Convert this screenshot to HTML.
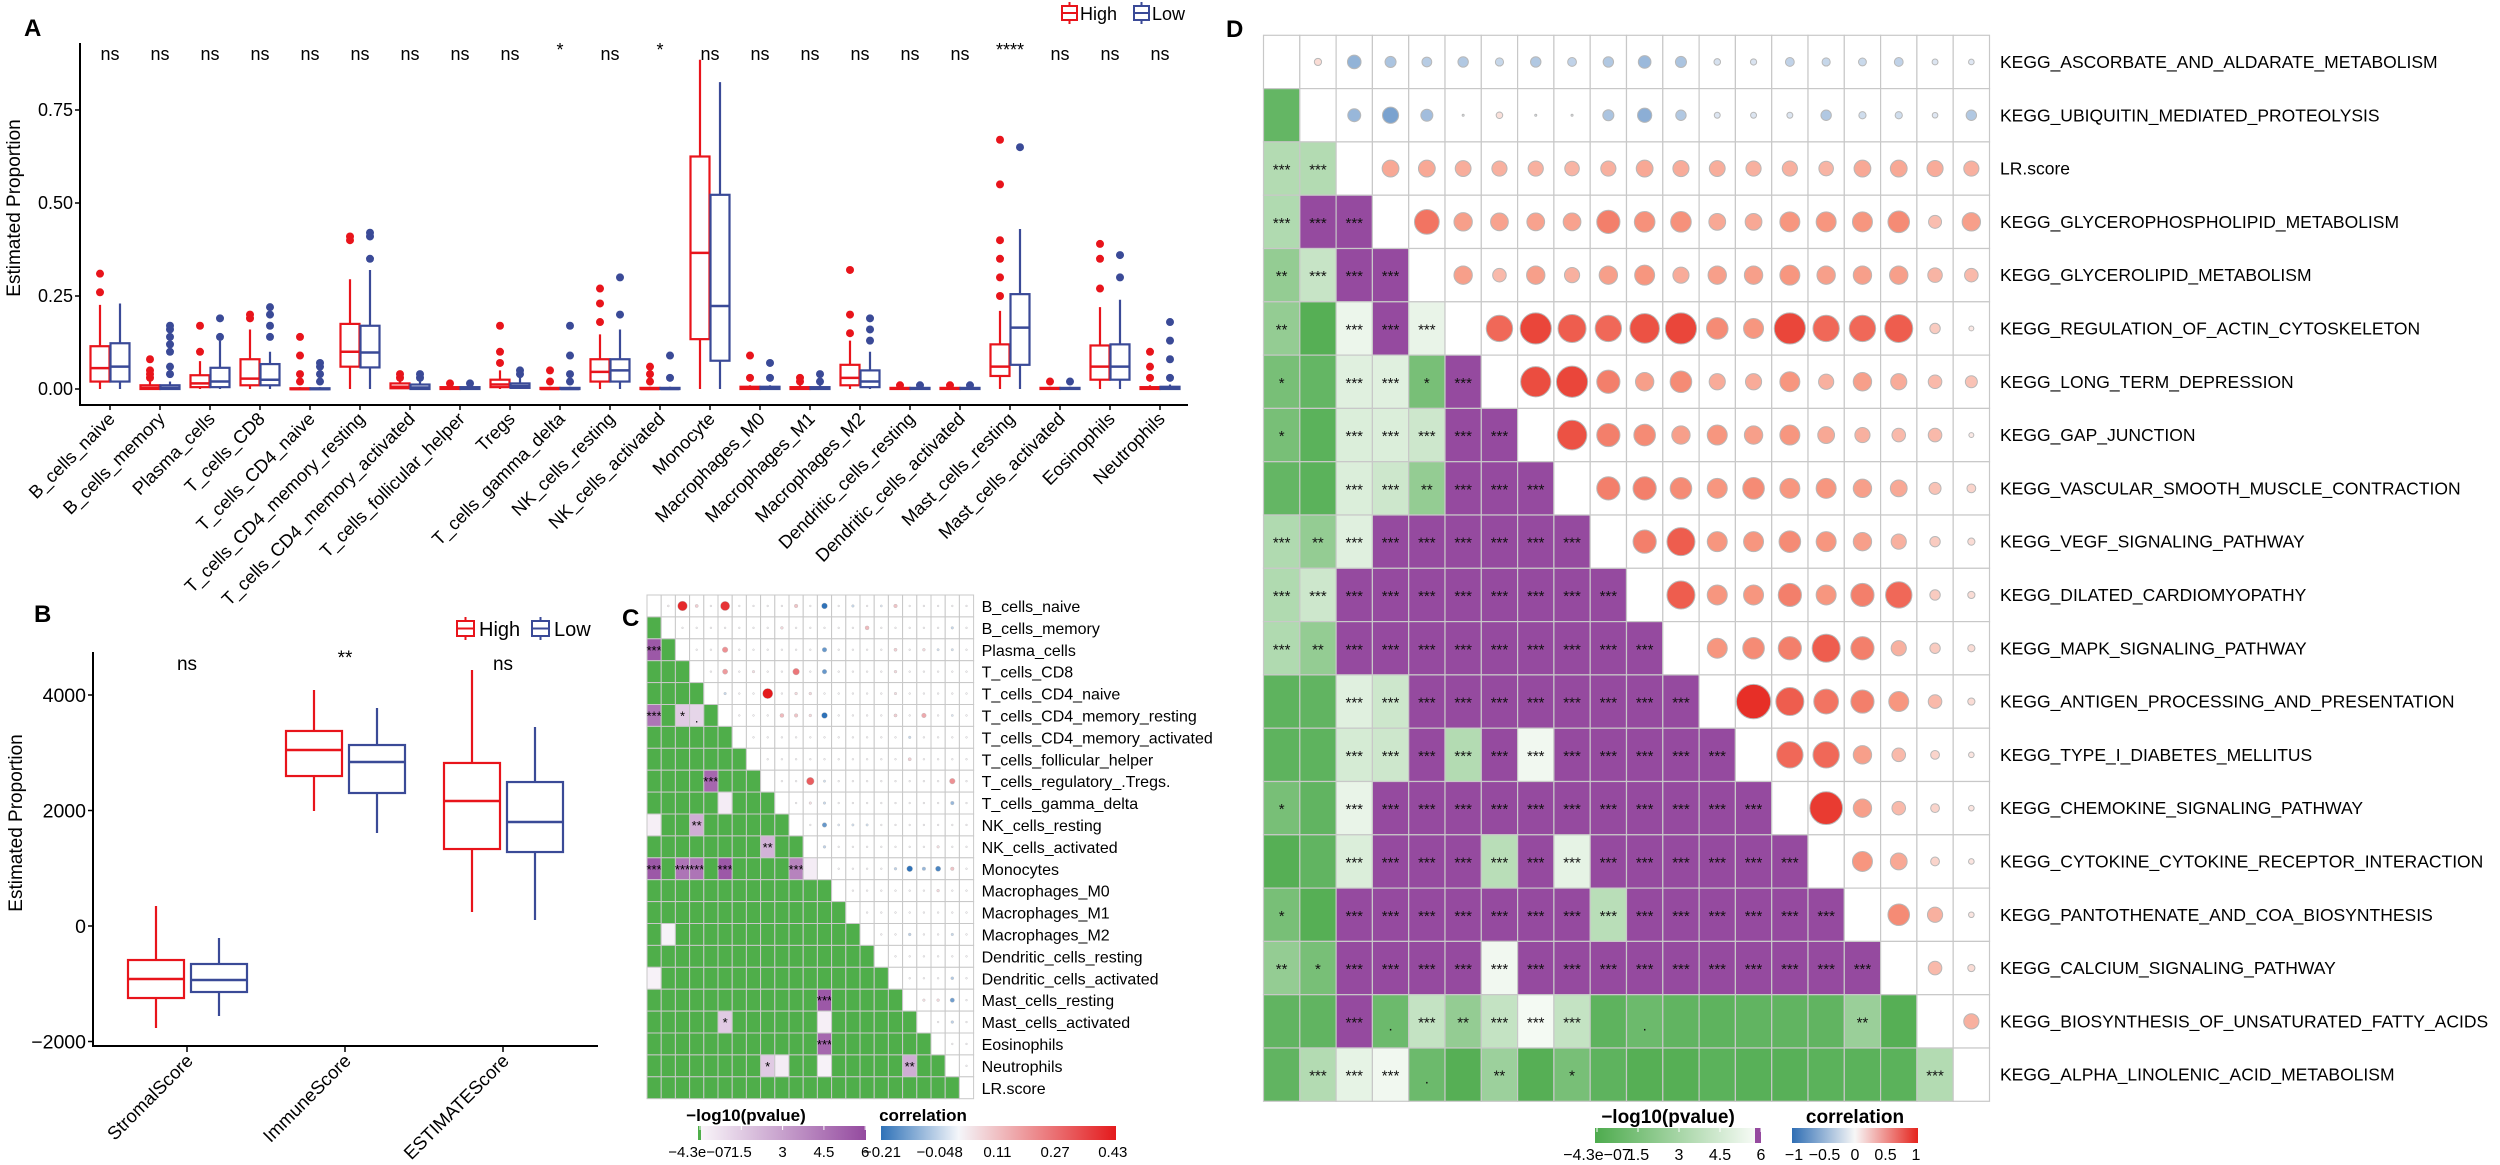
<!DOCTYPE html>
<html><head><meta charset="utf-8"><title>Immune infiltration figure</title>
<style>
html,body{margin:0;padding:0;background:#fff;}
svg{display:block;font-family:"Liberation Sans",Arial,sans-serif;}
</style></head>
<body>
<svg id="fig" width="2500" height="1165" viewBox="0 0 2500 1165" xmlns="http://www.w3.org/2000/svg">
<defs>
<linearGradient id="gGreen" x1="0" x2="1" y1="0" y2="0"><stop offset="0" stop-color="#4dab4d"/><stop offset="1" stop-color="#f7fbf6"/></linearGradient>
<linearGradient id="gPurple" x1="0" x2="1" y1="0" y2="0"><stop offset="0" stop-color="#f9f5f9"/><stop offset="1" stop-color="#944a9f"/></linearGradient>
<linearGradient id="gCorC" x1="0" x2="1" y1="0" y2="0"><stop offset="0" stop-color="#2f72b8"/><stop offset="0.33" stop-color="#f4f6fa"/><stop offset="1" stop-color="#e41a1c"/></linearGradient>
<linearGradient id="gCorD" x1="0" x2="1" y1="0" y2="0"><stop offset="0" stop-color="#2f6eb4"/><stop offset="0.5" stop-color="#f7f7f7"/><stop offset="1" stop-color="#e5241d"/></linearGradient>
</defs>
</svg>
<script>
// ===== Panel A data =====
const catsA = ["B_cells_naive","B_cells_memory","Plasma_cells","T_cells_CD8","T_cells_CD4_naive","T_cells_CD4_memory_resting","T_cells_CD4_memory_activated","T_cells_follicular_helper","Tregs","T_cells_gamma_delta","NK_cells_resting","NK_cells_activated","Monocyte","Macrophages_M0","Macrophages_M1","Macrophages_M2","Dendritic_cells_resting","Dendritic_cells_activated","Mast_cells_resting","Mast_cells_activated","Eosinophils","Neutrophils"];
const sigA = ["ns","ns","ns","ns","ns","ns","ns","ns","ns","*","ns","*","ns","ns","ns","ns","ns","ns","****","ns","ns","ns"];
// [lowWhisker, q1, median, q3, highWhisker]
const highA = [[0,0.02,0.056,0.115,0.226],[0,0,0.003,0.01,0.02],[0,0.005,0.015,0.037,0.075],[0,0.01,0.028,0.08,0.16],[0,0,0,0.002,0.005],[0,0.06,0.10,0.175,0.295],[0,0.002,0.006,0.015,0.025],[0,0,0.002,0.005,0.01],[0,0.005,0.012,0.025,0.05],[0,0,0,0.003,0.006],[0,0.02,0.046,0.08,0.147],[0,0,0,0.003,0.006],[0,0.134,0.366,0.625,0.885],[0,0,0.002,0.006,0.01],[0,0,0.002,0.005,0.01],[0,0.01,0.03,0.065,0.13],[0,0,0.001,0.003,0.006],[0,0,0.001,0.003,0.006],[0,0.035,0.06,0.12,0.21],[0,0,0.001,0.003,0.006],[0,0.025,0.06,0.117,0.22],[0,0,0.002,0.005,0.01]];
const lowA = [[0,0.02,0.06,0.123,0.23],[0,0,0.003,0.01,0.02],[0,0.005,0.02,0.057,0.13],[0,0.01,0.025,0.067,0.1],[0,0,0,0.002,0.005],[0,0.058,0.098,0.17,0.32],[0,0,0.004,0.012,0.02],[0,0,0.002,0.005,0.01],[0,0.003,0.008,0.015,0.03],[0,0,0,0.003,0.006],[0,0.02,0.05,0.08,0.16],[0,0,0,0.003,0.006],[0,0.076,0.223,0.522,0.825],[0,0,0.002,0.006,0.01],[0,0,0.002,0.005,0.01],[0,0.005,0.02,0.05,0.1],[0,0,0.001,0.003,0.006],[0,0,0.001,0.003,0.006],[0,0.065,0.165,0.255,0.43],[0,0,0.001,0.003,0.006],[0,0.025,0.06,0.12,0.24],[0,0,0.002,0.006,0.012]];
const highOutA = [[0.26,0.31],[0.03,0.04,0.05,0.08],[0.1,0.17],[0.19,0.2],[0.02,0.04,0.09,0.14],[0.4,0.41],[0.03,0.04],[0.015],[0.07,0.1,0.17],[0.02,0.05],[0.18,0.23,0.27],[0.02,0.04,0.06],[],[0.03,0.09],[0.02,0.03],[0.15,0.2,0.32],[0.01],[0.01],[0.25,0.3,0.35,0.4,0.55,0.67],[0.02],[0.27,0.35,0.39],[0.03,0.06,0.1]];
const lowOutA = [[],[0.04,0.06,0.1,0.12,0.14,0.16,0.17],[0.14,0.19],[0.14,0.17,0.2,0.22],[0.02,0.04,0.06,0.07],[0.35,0.41,0.42],[0.03,0.04],[0.015],[0.04,0.05],[0.02,0.04,0.09,0.17],[0.2,0.3],[0.03,0.09],[],[0.03,0.07],[0.02,0.04],[0.13,0.16,0.19],[0.01],[0.01],[0.65],[0.02],[0.3,0.36],[0.03,0.08,0.13,0.18]];
const ticksA = [0, 0.25, 0.5, 0.75];
const tickLabelsA = ["0.00","0.25","0.50","0.75"];

// ===== Panel B data =====
const catsB = ["StromalScore","ImmuneScore","ESTIMATEScore"];
const sigB = ["ns","**","ns"];
const highB = [[-1766,-1247,-918,-589,346],[1991,2597,3048,3377,4087],[242,1333,2165,2823,4433]];
const lowB = [[-1558,-1143,-935,-658,-208],[1610,2303,2840,3134,3775],[104,1281,1801,2493,3446]];
const ticksB = [-2000, 0, 2000, 4000];
const tickLabelsB = ["\u22122000","0","2000","4000"];

// ===== Panel C data =====
const labelsC = ["B_cells_naive","B_cells_memory","Plasma_cells","T_cells_CD8","T_cells_CD4_naive","T_cells_CD4_memory_resting","T_cells_CD4_memory_activated","T_cells_follicular_helper","T_cells_regulatory_.Tregs.","T_cells_gamma_delta","NK_cells_resting","NK_cells_activated","Monocytes","Macrophages_M0","Macrophages_M1","Macrophages_M2","Dendritic_cells_resting","Dendritic_cells_activated","Mast_cells_resting","Mast_cells_activated","Eosinophils","Neutrophils","LR.score"];
const pC = [[2,0,5.5],[5,0,4.5],[5,2,1.5],[5,3,1.1],[8,4,5],[9,5,0.3],[10,0,0.2],[10,3,2.5],[11,8,2.3],[12,0,5.5],[12,2,4.5],[12,3,4.5],[12,5,5.5],[12,10,4],[12,11,0.3],[15,1,0.1],[17,0,0.1],[18,12,5.5],[19,5,1.5],[19,12,0.2],[20,12,5],[21,8,1.5],[21,9,0.3],[21,12,0.1],[21,18,2.5]];
const corC = [[0,1,0.02],[0,2,0.4],[0,3,0.08],[0,5,0.38],[0,10,0.1],[0,12,-0.21],[0,14,-0.05],[0,16,-0.03],[0,17,0.1],[1,9,0.06],[1,15,0.12],[1,21,-0.05],[2,5,0.2],[2,12,-0.15],[2,17,0.08],[2,19,0.06],[2,20,-0.04],[2,21,-0.04],[3,5,0.18],[3,7,0.05],[3,10,0.25],[3,12,-0.15],[3,17,0.06],[4,5,-0.05],[4,8,0.43],[4,10,0.06],[4,11,0.06],[4,17,0.05],[5,9,0.12],[5,10,0.1],[5,11,0.06],[5,12,-0.21],[5,17,0.08],[5,19,0.15],[5,21,-0.03],[6,18,-0.05],[7,18,0.08],[8,11,0.3],[8,12,-0.04],[8,21,0.2],[9,11,0.05],[9,12,-0.05],[9,21,-0.1],[10,12,-0.15],[10,13,-0.03],[10,14,-0.04],[10,15,-0.04],[11,12,-0.06],[11,20,0.05],[12,17,-0.06],[12,18,-0.21],[12,19,-0.1],[12,20,-0.18],[12,21,0.1],[13,20,0.06],[15,18,-0.06],[15,21,-0.05],[17,21,-0.07],[18,19,0.05],[18,20,0.06],[18,21,-0.14],[19,21,-0.06]];
const pTicksC = ["\u22124.3e\u221207","1.5","3","4.5","6"];
const corTicksC = ["\u22120.21","\u22120.048","0.11","0.27","0.43"];

// ===== Panel D data =====
const labelsD = ["KEGG_ASCORBATE_AND_ALDARATE_METABOLISM","KEGG_UBIQUITIN_MEDIATED_PROTEOLYSIS","LR.score","KEGG_GLYCEROPHOSPHOLIPID_METABOLISM","KEGG_GLYCEROLIPID_METABOLISM","KEGG_REGULATION_OF_ACTIN_CYTOSKELETON","KEGG_LONG_TERM_DEPRESSION","KEGG_GAP_JUNCTION","KEGG_VASCULAR_SMOOTH_MUSCLE_CONTRACTION","KEGG_VEGF_SIGNALING_PATHWAY","KEGG_DILATED_CARDIOMYOPATHY","KEGG_MAPK_SIGNALING_PATHWAY","KEGG_ANTIGEN_PROCESSING_AND_PRESENTATION","KEGG_TYPE_I_DIABETES_MELLITUS","KEGG_CHEMOKINE_SIGNALING_PATHWAY","KEGG_CYTOKINE_CYTOKINE_RECEPTOR_INTERACTION","KEGG_PANTOTHENATE_AND_COA_BIOSYNTHESIS","KEGG_CALCIUM_SIGNALING_PATHWAY","KEGG_BIOSYNTHESIS_OF_UNSATURATED_FATTY_ACIDS","KEGG_ALPHA_LINOLENIC_ACID_METABOLISM"];
const pD = [[],[0.8],[3.6,3.6],[3.5,7,7],[2.5,4.3,7,7],[2.5,0.3,5.6,7,5.5],[1.5,0.8,5.2,5.2,1.5,7],[1.5,0.5,5,5,4.5,7,7],[0.8,0.5,5,4.5,2.5,7,7,7],[3.5,2.5,5.2,7,7,7,7,7,7],[3.5,4.5,7,7,7,7,7,7,7,7],[3.5,2.5,7,7,7,7,7,7,7,7,7],[0.6,0.7,5.2,4.5,7,7,7,7,7,7,7,7],[0.6,0.6,4.8,4.5,7,3.6,7,5.8,7,7,7,7,7],[1.5,0.7,5.5,7,7,7,7,7,7,7,7,7,7,7],[0.3,0.7,5.0,7,7,7,3.8,7,5.4,7,7,7,7,7,7],[1.5,0.3,7,7,7,7,7,7,7,3.8,7,7,7,7,7,7],[2.5,1.5,7,7,7,7,5.8,7,7,7,7,7,7,7,7,7,7],[0.7,0.7,7,1.1,4.2,2.5,4.2,5.9,4.2,0.6,1.1,0.7,0.6,0.7,0.7,0.7,2.7,0.3],[0.7,3.6,5.4,5.8,1.1,0.3,2.8,0.3,1.5,0.6,0.3,0.3,0.5,0.4,0.4,0.5,0.5,0.5,3.6]];
const corD = [[0.1,-0.3,-0.22,-0.18,-0.2,-0.13,-0.2,-0.15,-0.2,-0.27,-0.22,-0.08,-0.07,-0.15,-0.13,-0.12,-0.15,-0.06,-0.05],[-0.28,-0.38,-0.25,-0.02,0.08,-0.02,-0.01,-0.22,-0.32,-0.2,-0.06,-0.06,-0.06,-0.2,-0.1,-0.1,-0.05,-0.2],[0.4,0.4,0.37,0.35,0.35,0.33,0.35,0.4,0.38,0.37,0.35,0.35,0.33,0.4,0.4,0.38,0.35],[0.65,0.45,0.43,0.43,0.43,0.6,0.52,0.52,0.4,0.4,0.5,0.5,0.5,0.55,0.28,0.45],[0.45,0.3,0.45,0.35,0.45,0.5,0.38,0.45,0.45,0.5,0.45,0.45,0.45,0.33,0.3],[0.7,0.85,0.75,0.7,0.8,0.85,0.55,0.5,0.85,0.7,0.7,0.75,0.2,0.03],[0.82,0.85,0.6,0.45,0.55,0.38,0.38,0.5,0.35,0.45,0.38,0.3,0.25],[0.8,0.6,0.55,0.45,0.5,0.45,0.5,0.4,0.35,0.3,0.3,0.03],[0.6,0.6,0.55,0.5,0.55,0.5,0.5,0.45,0.4,0.25,0.15],[0.6,0.75,0.5,0.5,0.55,0.5,0.45,0.35,0.2,0.1],[0.75,0.5,0.5,0.6,0.5,0.6,0.7,0.2,0.1],[0.5,0.55,0.6,0.75,0.6,0.35,0.2,0.1],[0.95,0.75,0.65,0.6,0.5,0.3,0.1],[0.7,0.7,0.45,0.3,0.15,0.05],[0.9,0.45,0.3,0.15,0.05],[0.5,0.4,0.15,0.05],[0.55,0.35,0.05],[0.3,0.1],[0.35]];
const pTicksD = ["\u22124.3e\u221207","1.5","3","4.5","6"];
const corTicksD = ["\u22121","\u22120.5","0","0.5","1"];

// ===== helpers =====
const NS = "http://www.w3.org/2000/svg";
const svg = document.getElementById("fig");
const RED = "#e8141b", BLUE = "#3a4a97";
function mk(tag, parent){ const e = document.createElementNS(NS, tag); (parent||svg).appendChild(e); return e; }
function sa(e, o){ for (const k in o) e.setAttribute(k, o[k]); return e; }
function hex(c){ return [parseInt(c.substr(1,2),16),parseInt(c.substr(3,2),16),parseInt(c.substr(5,2),16)]; }
function mix(a,b,t){ const A=hex(a),B=hex(b); return "rgb("+A.map((v,i)=>Math.round(v+(B[i]-v)*t)).join(",")+")"; }
function stars(v){ return v>=3?"***":v>=2?"**":v>=1.3?"*":v>=1?".":""; }
function txt(parent, x, y, s, size, opts){
  const t = mk("text", parent); sa(t, {x:x, y:y, "font-size":size, fill:"#000"});
  if (opts) sa(t, opts); t.textContent = s; return t;
}

// ===== Panel A =====
const gA = mk("g");


const yA = v => 389 - v*372;
const xA = i => 110 + i*50;
{
  const lab = txt(gA, 24, 36, "A", 24, {"font-weight":"bold"});
  
  
  const ax = mk("path", gA); sa(ax, {d:"M80,43 V405 H1188", stroke:"#000", "stroke-width":2, fill:"none"});
  
  
  ticksA.forEach((v,i)=>{
    const tk = mk("line", gA); sa(tk, {x1:75, x2:80, y1:yA(v), y2:yA(v), stroke:"#000", "stroke-width":1.5});
    
    
    const tl = txt(gA, 73, yA(v)+6, tickLabelsA[i], 18, {"text-anchor":"end"});
    
    
  });
  const yt = txt(gA, 0, 0, "Estimated Proportion", 19, {"text-anchor":"middle", transform:"translate(20,208) rotate(-90)"});
  
  
  catsA.forEach((c,i)=>{
    const cx = xA(i);
    const tk = mk("line", gA); sa(tk, {x1:cx, x2:cx, y1:405, y2:410, stroke:"#000", "stroke-width":1.5});
    
    
    const tl = txt(gA, 0, 0, c, 18.3, {"text-anchor":"end", transform:"translate("+(cx+6)+",420) rotate(-45)"});
    
    
    const sg = txt(gA, cx, sigA[i]==="ns"?60:56, sigA[i], 18, {"text-anchor":"middle"});
    
    
    [[highA[i], highOutA[i], RED, -10, 'box-high'],[lowA[i], lowOutA[i], BLUE, 10, 'box-low']].forEach(([s, outs, col, off, nm])=>{
      const bx = cx + off, w = 19;
      const g = mk("g", gA);
      
      
      const wh = mk("path", g); sa(wh, {d:"M"+bx+","+yA(s[0])+" V"+yA(s[1])+" M"+bx+","+yA(s[3])+" V"+yA(s[4]), stroke:col, "stroke-width":2.2});
      
      
      const r = mk("rect", g); sa(r, {x:bx-w/2, y:yA(s[3]), width:w, height:Math.max(1,yA(s[1])-yA(s[3])), fill:"#fff", stroke:col, "stroke-width":2.2});
      
      
      const md = mk("line", g); sa(md, {x1:bx-w/2, x2:bx+w/2, y1:yA(s[2]), y2:yA(s[2]), stroke:col, "stroke-width":2.5});
      
      
      outs.forEach(o=>{
        const p = mk("circle", g); sa(p, {cx:bx, cy:yA(o), r:4, fill:col});
        
        
      });
    });
  });
  const lg = mk("g", gA);
  
  
  [[1062,RED,"High"],[1134,BLUE,"Low"]].forEach(([x,col,l])=>{
    const e = mk("g", lg);
    
    
    const ic = mk("path", e); sa(ic, {d:"M"+x+",6 h15 v14 h-15 z M"+x+",13 h15 M"+(x+7.5)+",2 v4 M"+(x+7.5)+",20 v4", stroke:col, "stroke-width":2, fill:"#fff"});
    
    
    const t = txt(e, x+18, 20, l, 18);
    
    
  });
}

// ===== Panel B =====
const gB = mk("g");


const yB = v => 926 - v*0.05775;
const xB = i => 187 + i*158;
{
  const lab = txt(gB, 34, 622, "B", 24, {"font-weight":"bold"});
  
  
  const ax = mk("path", gB); sa(ax, {d:"M93,652 V1046 H598", stroke:"#000", "stroke-width":2, fill:"none"});
  
  
  ticksB.forEach((v,i)=>{
    const tk = mk("line", gB); sa(tk, {x1:88, x2:93, y1:yB(v), y2:yB(v), stroke:"#000", "stroke-width":1.5});
    
    
    const tl = txt(gB, 86, yB(v)+7, tickLabelsB[i], 19.5, {"text-anchor":"end"});
    
    
  });
  const yt = txt(gB, 0, 0, "Estimated Proportion", 19, {"text-anchor":"middle", transform:"translate(22,823) rotate(-90)"});
  
  
  catsB.forEach((c,i)=>{
    const cx = xB(i);
    const tk = mk("line", gB); sa(tk, {x1:cx, x2:cx, y1:1046, y2:1052, stroke:"#000", "stroke-width":1.5});
    
    
    const tl = txt(gB, 0, 0, c, 18.5, {"text-anchor":"end", transform:"translate("+(cx+7)+",1062) rotate(-45)"});
    
    
    const sg = txt(gB, cx, sigB[i]==="ns"?670:664, sigB[i], 19, {"text-anchor":"middle"});
    
    
    [[highB[i], RED, -31, 'box-high'],[lowB[i], BLUE, 32, 'box-low']].forEach(([s,col,off,nm])=>{
      const bx = cx+off, w = 56;
      const g = mk("g", gB);
      
      
      const wh = mk("path", g); sa(wh, {d:"M"+bx+","+yB(s[0])+" V"+yB(s[1])+" M"+bx+","+yB(s[3])+" V"+yB(s[4]), stroke:col, "stroke-width":2.2});
      
      
      const r = mk("rect", g); sa(r, {x:bx-w/2, y:yB(s[3]), width:w, height:yB(s[1])-yB(s[3]), fill:"#fff", stroke:col, "stroke-width":2.2});
      
      
      const md = mk("line", g); sa(md, {x1:bx-w/2, x2:bx+w/2, y1:yB(s[2]), y2:yB(s[2]), stroke:col, "stroke-width":2.5});
      
      
    });
  });
  const lg = mk("g", gB);
  
  
  [[457,RED,"High"],[532,BLUE,"Low"]].forEach(([x,col,l])=>{
    const e = mk("g", lg);
    
    
    const ic = mk("path", e); sa(ic, {d:"M"+x+",621 h17 v15 h-17 z M"+x+",628.5 h17 M"+(x+8.5)+",617 v4 M"+(x+8.5)+",636 v4", stroke:col, "stroke-width":2, fill:"#fff"});
    
    
    const t = txt(e, x+22, 636, l, 20);
    
    
  });
}

// ===== Panel C =====
const gC = mk("g");


{
  const N = labelsC.length, L = 647, T = 595, CW = 14.2, CH = 21.9;
  const lab = txt(gC, 622, 626, "C", 24, {"font-weight":"bold"});
  
  
  const pm = {}; pC.forEach(([r,c,v])=>{ pm[r+"_"+c]=v; });
  const cm = {}; corC.forEach(([r,c,v])=>{ cm[r+"_"+c]=v; });
  const corCol = v => v<0 ? mix("#f4f6fa","#2f72b8",Math.min(1,-v/0.21)) : mix("#f4f6fa","#e41a1c",Math.min(1,v/0.43));
  for (let r=0;r<N;r++){
    for (let c=0;c<N;c++){
      const x = L+c*CW, y = T+r*CH;
      const cell = mk("rect", gC);
      let fill = "#fff";
      if (c<r){ const v = pm[r+"_"+c]||0; fill = v===0 ? "#4fae4a" : mix("#f9f5f9","#944a9f",Math.min(1,v/6)); }
      sa(cell, {x:x, y:y, width:CW, height:CH, fill:fill, stroke:"#c8c8c8", "stroke-width":1});
      
      
      if (c<r){
        const v = pm[r+"_"+c]||0, s = stars(v);
        if (s){ const st = txt(gC, x+CW/2, y+CH/2+(s==="."?7:5), s, 13, {"text-anchor":"middle"});
          
           }
      } else if (c>r){
        const v = (r+"_"+c) in cm ? cm[r+"_"+c] : 0.01;
        const dot = mk("circle", gC); sa(dot, {cx:x+CW/2, cy:y+CH/2, r:0.8+Math.abs(v)*10, fill:corCol(v), stroke:"#bbb", "stroke-width":0.4});
        
        
      }
    }
  }
  labelsC.forEach((l,i)=>{
    const t = txt(gC, L+N*CW+8, T+i*CH+CH/2+6, l, 16);
    
    
  });
  const t1 = txt(gC, 746, 1121, "\u2212log10(pvalue)", 17, {"font-weight":"bold","text-anchor":"middle"});
  
  
  const gb = mk("rect", gC); sa(gb, {x:698, y:1126, width:3, height:14, fill:"#4fae4a"});
  
  
  const pb = mk("rect", gC); sa(pb, {x:701, y:1126, width:165, height:14, fill:"url(#gPurple)"});
  
  
  pTicksC.forEach((s,i)=>{
    const x = 700 + i*41.3;
    const tk = mk("line", gC); sa(tk, {x1:x, x2:x, y1:1126, y2:1130, stroke:"#fff", "stroke-width":1});
    
    
    const tl = txt(gC, x, 1157, s, 15, {"text-anchor":"middle"});
    
    
  });
  const t2 = txt(gC, 923, 1121, "correlation", 17, {"font-weight":"bold","text-anchor":"middle"});
  
  
  const cb = mk("rect", gC); sa(cb, {x:881, y:1126, width:235, height:14, fill:"url(#gCorC)"});
  
  
  corTicksC.forEach((s,i)=>{
    const x = 882 + i*57.7;
    const tl = txt(gC, x, 1157, s, 15, {"text-anchor":"middle"});
    
    
  });
}

// ===== Panel D =====
const gD = mk("g");


{
  const N = labelsD.length, L = 1263.5, T = 35.3, CW = 36.3, CH = 53.3;
  const lab = txt(gD, 1226, 37, "D", 24, {"font-weight":"bold"});
  
  
  const pCol = v => v>=6 ? "#954a9f" : mix("#4dab4d","#f7fbf6",v/6);
  const corCol = v => v<0 ? mix("#eef2f8","#2f6eb4",Math.min(1,-v*1.6)) : (v<0.5 ? mix("#fbeeeb","#f7967f",v/0.5) : mix("#f7967f","#e5241d",(v-0.5)/0.5));
  for (let r=0;r<N;r++){
    for (let c=0;c<N;c++){
      const x = L+c*CW, y = T+r*CH;
      const cell = mk("rect", gD);
      const fill = c<r ? pCol(pD[r][c]) : "#fff";
      sa(cell, {x:x, y:y, width:CW, height:CH, fill:fill, stroke:"#c8c8c8", "stroke-width":1.2});
      
      
      if (c<r){
        const s = stars(pD[r][c]);
        if (s){ const st = txt(gD, x+CW/2, y+CH/2+(s==="."?9:6), s, 15, {"text-anchor":"middle", fill:"#111"});
          
           }
      } else if (c>r){
        const v = corD[r][c-r-1];
        const av = Math.abs(v);
        const dot = mk("circle", gD); sa(dot, {cx:x+CW/2, cy:y+CH/2, r: av<0.03 ? 1 : 2+av*16, fill:corCol(v), stroke:"#b8b8b8", "stroke-width":1});
        
        
      }
    }
  }
  labelsD.forEach((l,i)=>{
    const t = txt(gD, 2000, T+i*CH+CH/2+6, l, 17.5);
    
    
  });
  const t1 = txt(gD, 1668, 1123, "\u2212log10(pvalue)", 19, {"font-weight":"bold","text-anchor":"middle"});
  
  
  const pb = mk("rect", gD); sa(pb, {x:1595, y:1128, width:160, height:15, fill:"url(#gGreen)"});
  
  
  const pp = mk("rect", gD); sa(pp, {x:1755, y:1128, width:6, height:15, fill:"#954a9f"});
  
  
  pTicksD.forEach((s,i)=>{
    const x = 1597 + i*41;
    const tk = mk("line", gD); sa(tk, {x1:x, x2:x, y1:1128, y2:1132, stroke:"#fff", "stroke-width":1});
    
    
    const tl = txt(gD, x, 1160, s, 16, {"text-anchor":"middle"});
    
    
  });
  const t2 = txt(gD, 1855, 1123, "correlation", 19, {"font-weight":"bold","text-anchor":"middle"});
  
  
  const cb = mk("rect", gD); sa(cb, {x:1792, y:1128, width:126, height:15, fill:"url(#gCorD)"});
  
  
  corTicksD.forEach((s,i)=>{
    const x = 1794 + i*30.5;
    const tl = txt(gD, x, 1160, s, 16, {"text-anchor":"middle"});
    
    
  });
}
</script>
</body></html>
